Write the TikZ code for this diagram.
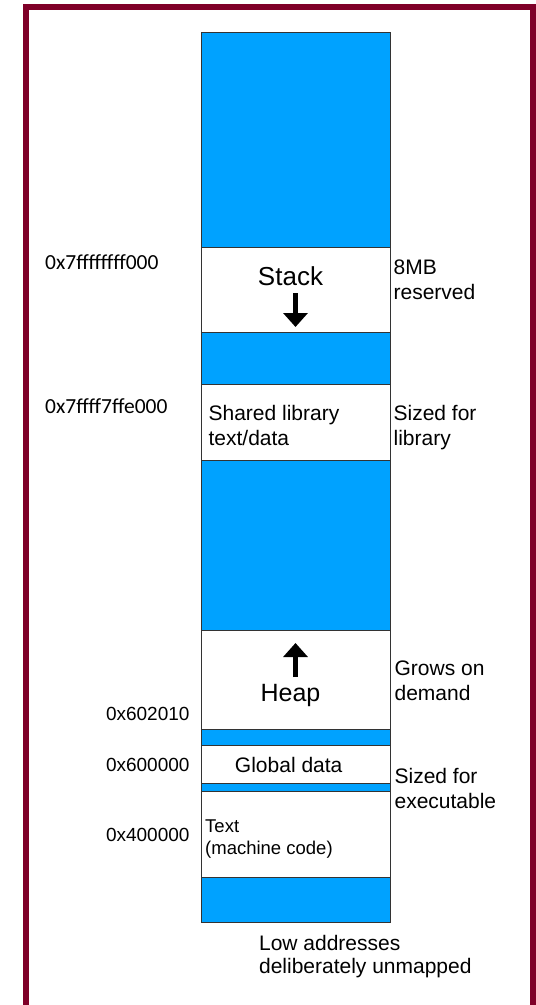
\documentclass[tikz,border=0pt]{standalone}
\usepackage{fontspec}
\setmainfont{Liberation Sans}
\newfontfamily\addrfont{Carlito}
\usepackage{tikz}
\usetikzlibrary{arrows.meta}
\definecolor{segblue}{RGB}{0,162,255}
\definecolor{framered}{RGB}{127,0,40}
\newcommand{\lbl}{\fontsize{21}{25}\selectfont}
\newcommand{\addr}{\addrfont\fontsize{21.5}{25}\selectfont}
\newcommand{\haddr}{\fontsize{19}{23}\selectfont}
\tikzset{
  gap/.style={fill=segblue, draw=black!80, line width=1pt},
  used/.style={fill=white, draw=black!80, line width=1pt},
  txt/.style={inner sep=0pt, align=left, font=\lbl},
  growarrow/.style={line width=5pt, -{Triangle[width=24pt, length=14pt]}}
}

\begin{document}
\begin{tikzpicture}[x=1pt, y=-1pt]
      \useasboundingbox (0,0) rectangle (536,1005);
      \clip (0,0) rectangle (536,1005);
      \draw[framered, line width=6pt] (26,7) rectangle (532.5,1020);

      % the column, top to bottom
      \draw[gap] (201,32) rectangle (390,247);
      \draw[used] (201,247) rectangle (390,332);
      \draw[gap] (201,332) rectangle (390,384);
      \draw[used] (201,384) rectangle (390,460);
      \draw[gap] (201,460) rectangle (390,630);
      \draw[used] (201,630) rectangle (390,729);
      \draw[gap] (201,729) rectangle (390,745);
      \draw[used] (201,745) rectangle (390,783);
      \draw[gap] (201,783) rectangle (390,791);
      \draw[used] (201,791) rectangle (390,877);
      \draw[gap] (201,877) rectangle (390,922);

      \draw (290.5,285) node[txt, anchor=base, font=\fontsize{26}{30}\selectfont] (stack) {Stack};
      \draw (208.4,445) node[txt, anchor=base west] (shlib) {Shared library\\text/data};
      \draw (290.5,701.7) node[txt, anchor=base, font=\fontsize{25}{30}\selectfont] (heap) {Heap};
      \draw (288.7,772) node[txt, anchor=base] (glob) {Global data};
      \draw (205,854.3) node[txt, anchor=base west, font=\fontsize{18.5}{22}\selectfont] (code) {Text\\(machine code)};

      \coordinate (sdtop) at (295.5,293);
      \coordinate (sdbot) at (295.5,327);
      \coordinate (hpbot) at (295.5,677);
      \coordinate (hptop) at (295.5,643);
      \draw[growarrow] (sdtop) -- (sdbot);
      \draw[growarrow] (hpbot) -- (hptop);

      % addresses
      \draw (45,269) node[txt, anchor=base west, font=\addr] (a1) {0x7ffffffff000};
      \draw (45,413.3) node[txt, anchor=base west, font=\addr] (a2) {0x7ffff7ffe000};
      \draw (189.7,720) node[txt, anchor=base east, font=\haddr] (a3) {0x602010};
      \draw (189.7,771.7) node[txt, anchor=base east, font=\haddr] (a4) {0x600000};
      \draw (189.7,841.7) node[txt, anchor=base east, font=\haddr] (a5) {0x400000};

      % sizes
      \draw (393.4,299.3) node[txt, anchor=base west] (r1) {8MB\\reserved};
      \draw (393.4,445) node[txt, anchor=base west] (r2) {Sized for\\library};
      \draw (394.4,700) node[txt, anchor=base west] (r3) {Grows on\\demand};
      \draw (394.4,808) node[txt, anchor=base west] (r4) {Sized for\\executable};
      \draw (258.9,973) node[txt, anchor=base west, font=\fontsize{21}{23}\selectfont] (low) {Low addresses\\deliberately unmapped};
\end{tikzpicture}
\end{document}
